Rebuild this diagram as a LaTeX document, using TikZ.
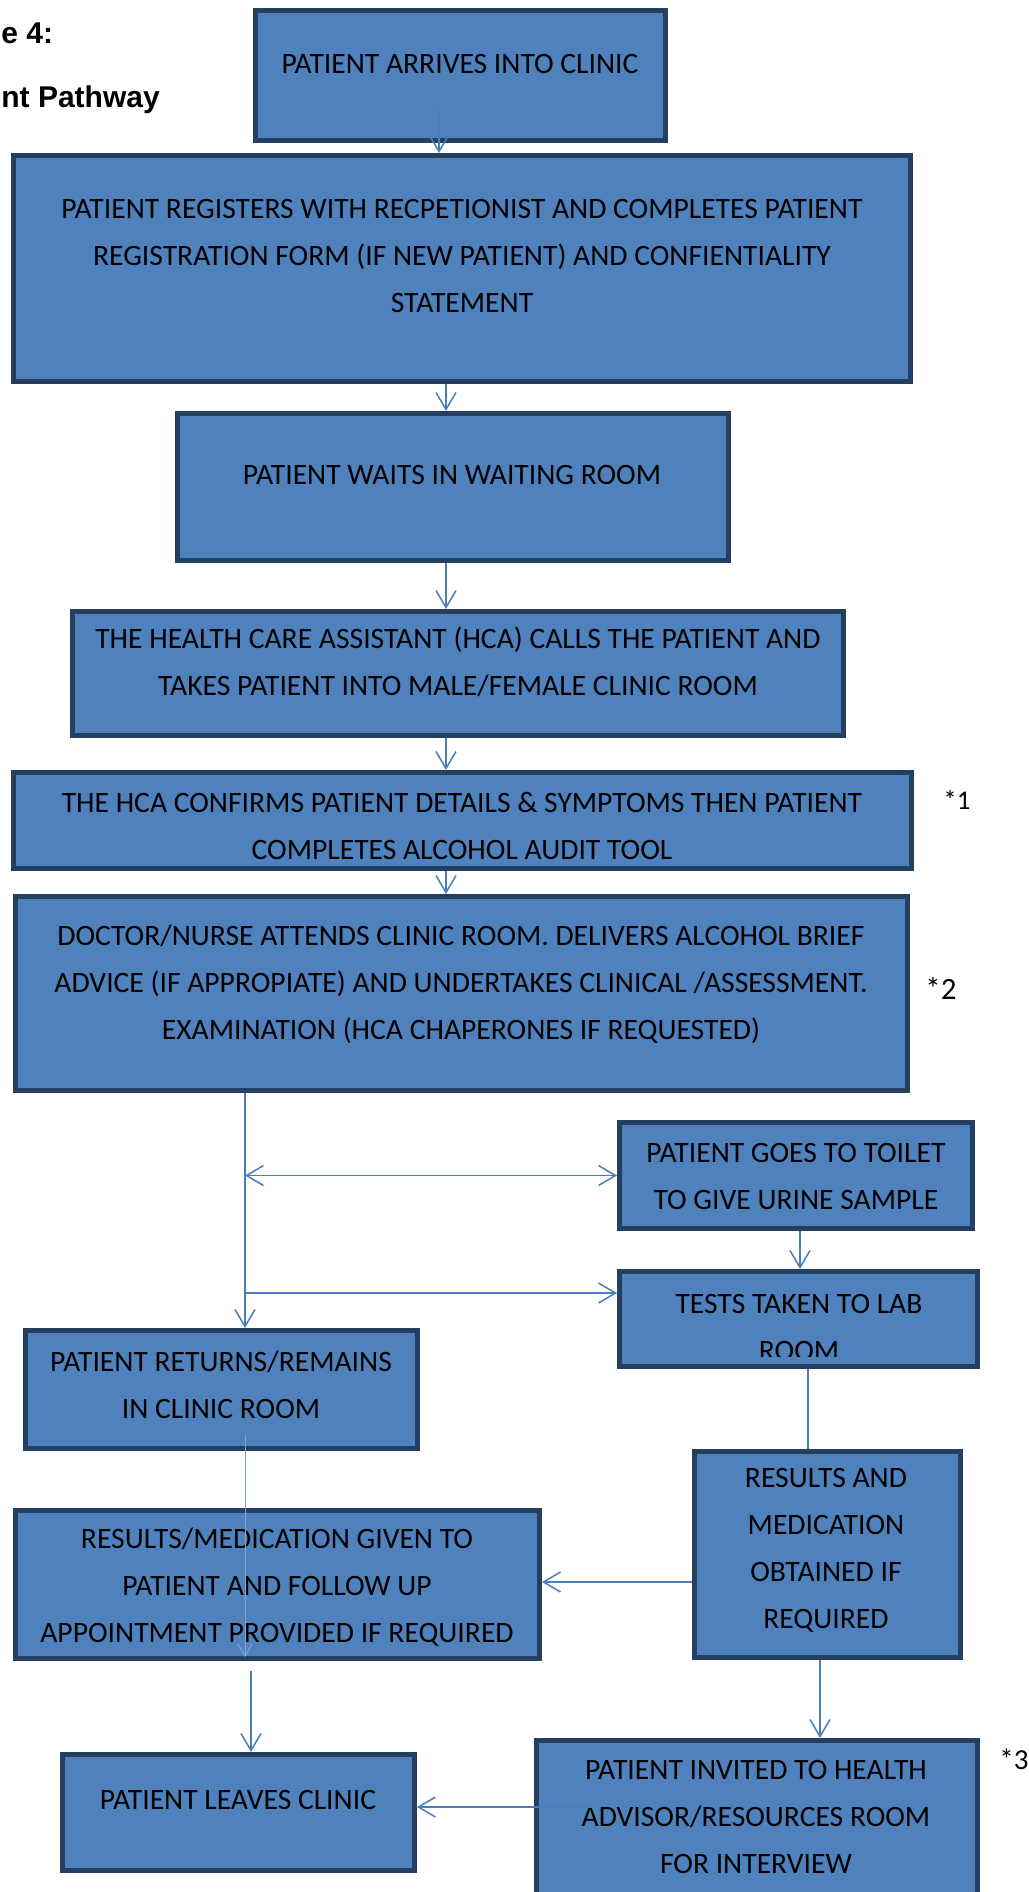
\documentclass[tikz,border=0pt]{standalone}
\usepackage{fontspec}
\setmainfont{Carlito}
\newfontfamily\headfont{Liberation Sans}
\usetikzlibrary{arrows.meta,fit,calc}
\definecolor{boxfill}{HTML}{4F81BD}
\definecolor{boxedge}{HTML}{243F60}
\definecolor{linkblue}{HTML}{4A7EBB}
\definecolor{faintblue}{HTML}{7FA3D6}

\begin{document}
\begin{tikzpicture}[x=0.5pt,y=-0.5pt,
  box/.style={draw=boxedge, fill=boxfill, line width=2.5pt, inner sep=0pt, rectangle},
  boxtext/.style={font=\fontsize{14.8}{23.5}\selectfont, align=center, inner sep=0pt, text=black},
  note/.style={anchor=west, inner sep=0pt, text=black},
  head/.style={font=\headfont\bfseries\fontsize{15}{18}\selectfont, anchor=base west, inner sep=0pt},
  link/.style={draw=linkblue, line width=0.75pt},
  arr/.style={link, -{Straight Barb[length=8.5pt,width=10pt]}},
  twoarr/.style={link, {Straight Barb[length=8.5pt,width=10pt]}-{Straight Barb[length=8.5pt,width=10pt]}},
  faint/.style={draw=faintblue, line width=0.5pt, -{Straight Barb[length=6pt,width=7pt]}}
]
\useasboundingbox (0,0) rectangle (1029,1892);
\clip (0,0) rectangle (1029,1892);
\fill[white] (0,0) rectangle (1029,1892);

% heading
\node[head] (h1) at (1,43) {e 4:};
\node[head] (h2) at (1,107) {nt Pathway};

% boxes
\node[box, fit={(255.5,10.5) (665.5,140.5)}] (b1) {};
\node[box, fit={(13.5,155.5) (910.5,381.5)}] (b2) {};
\node[box, fit={(177.5,413.5) (728.5,560.5)}] (b3) {};
\node[box, fit={(72.5,611.5) (843.5,735.5)}] (b4) {};
\node[box, fit={(13.5,772.5) (911.5,868.5)}] (b5) {};
\node[box, fit={(15.5,896.5) (907.5,1090.5)}] (b6) {};
\node[box, fit={(619.5,1122.5) (972.5,1228.5)}] (b7) {};
\node[box, fit={(619.5,1271.5) (977.5,1366.5)}] (b8) {};
\node[box, fit={(25.5,1330.5) (417.5,1448.5)}] (b9) {};
\node[box, fit={(694.5,1451.5) (960.5,1657.5)}] (b10) {};
\node[box, fit={(15.5,1510.5) (539.5,1658.5)}] (b11) {};
\node[box, fit={(62.5,1754.5) (414.5,1870.5)}] (b12) {};
\node[box, fit={(536.5,1740.5) (977.5,1930)}] (b13) {};

% box texts
\node[boxtext] (t1) at (460,64) {PATIENT ARRIVES INTO CLINIC};
\node[boxtext] (t2) at (462,256) {PATIENT REGISTERS WITH RECPETIONIST AND COMPLETES PATIENT\\REGISTRATION FORM (IF NEW PATIENT) AND CONFIENTIALITY\\STATEMENT};
\node[boxtext] (t3) at (452,475) {PATIENT WAITS IN WAITING ROOM};
\node[boxtext] (t4) at (458,662) {THE HEALTH CARE ASSISTANT (HCA) CALLS THE PATIENT AND\\TAKES PATIENT INTO MALE/FEMALE CLINIC ROOM};
\node[boxtext] (t5) at (462,826) {THE HCA CONFIRMS PATIENT DETAILS \& SYMPTOMS THEN PATIENT\\COMPLETES ALCOHOL AUDIT TOOL};
\node[boxtext] (t6) at (461,984) {DOCTOR/NURSE ATTENDS CLINIC ROOM. DELIVERS ALCOHOL BRIEF\\ADVICE (IF APPROPIATE) AND UNDERTAKES CLINICAL /ASSESSMENT.\\EXAMINATION (HCA CHAPERONES IF REQUESTED)};
\node[boxtext] (t7) at (796,1176) {PATIENT GOES TO TOILET\\TO GIVE URINE SAMPLE};
\begin{scope}
  \clip (622,1274) rectangle (975,1356);
  \node[boxtext] (t8) at (799,1327) {TESTS TAKEN TO LAB\\ROOM};
\end{scope}
\node[boxtext] (t9) at (221,1385) {PATIENT RETURNS/REMAINS\\IN CLINIC ROOM};
\node[boxtext] (t10) at (826,1550) {RESULTS AND\\MEDICATION\\OBTAINED IF\\REQUIRED};
\node[boxtext] (t11) at (277,1587) {RESULTS/MEDICATION GIVEN TO\\PATIENT AND FOLLOW UP\\APPOINTMENT PROVIDED IF REQUIRED};
\node[boxtext] (t12) at (238,1800) {PATIENT LEAVES CLINIC};
\node[boxtext] (t13) at (756,1817) {PATIENT INVITED TO HEALTH\\ADVISOR/RESOURCES ROOM\\FOR INTERVIEW};

% side notes
\node[note, font=\fontsize{13.5}{16}\selectfont] (n1) at (943,800) {*1};
\node[note, font=\fontsize{15.5}{18}\selectfont] (n2) at (925,988) {*2};
\node[note, font=\fontsize{14.5}{17}\selectfont] (n3) at (999,1759) {*3};

% connector guide positions
\coordinate (a1s) at (439,108);
\coordinate (mid) at (446,0);
\coordinate (vl) at (245,0);
\coordinate (hy2) at (0,1293);
\coordinate (c7) at (800,0);
\coordinate (c8) at (808,0);
\coordinate (hy3) at (0,1582);
\coordinate (c10) at (820,0);
\coordinate (a13s) at (594,1807);
\coordinate (a11s) at (251,1671);
\coordinate (f1) at (245,1435);

% main column
\draw[arr] (a1s) -- (a1s |- b2.north);
\draw[arr] (b2.south -| mid) -- (b3.north -| mid);
\draw[arr] (b3.south -| mid) -- (b4.north -| mid);
\draw[arr] (b4.south -| mid) -- (b5.north -| mid);
\draw[arr] (b5.south -| mid) -- (b6.north -| mid);

% branches after the examination
\draw[arr] (b6.south -| vl) -- (b9.north -| vl);
\draw[twoarr] (vl |- b7.west) -- (b7.west);
\draw[arr] (vl |- hy2) -- (b8.west |- hy2);
\draw[arr] (b7.south -| c7) -- (b8.north -| c7);
\draw[link] (b8.south -| c8) -- (b10.north -| c8);
\draw[arr] (b10.west |- hy3) -- (b11.east |- hy3);
\draw[arr] (b10.south -| c10) -- (b13.north -| c10);
\draw[faint, shorten >=2pt] (f1) -- (b11.south -| f1);
\draw[arr] (a11s) -- (b12.north -| a11s);
\draw[arr] (a13s) -- (b12.east |- a13s);
\end{tikzpicture}
\end{document}
